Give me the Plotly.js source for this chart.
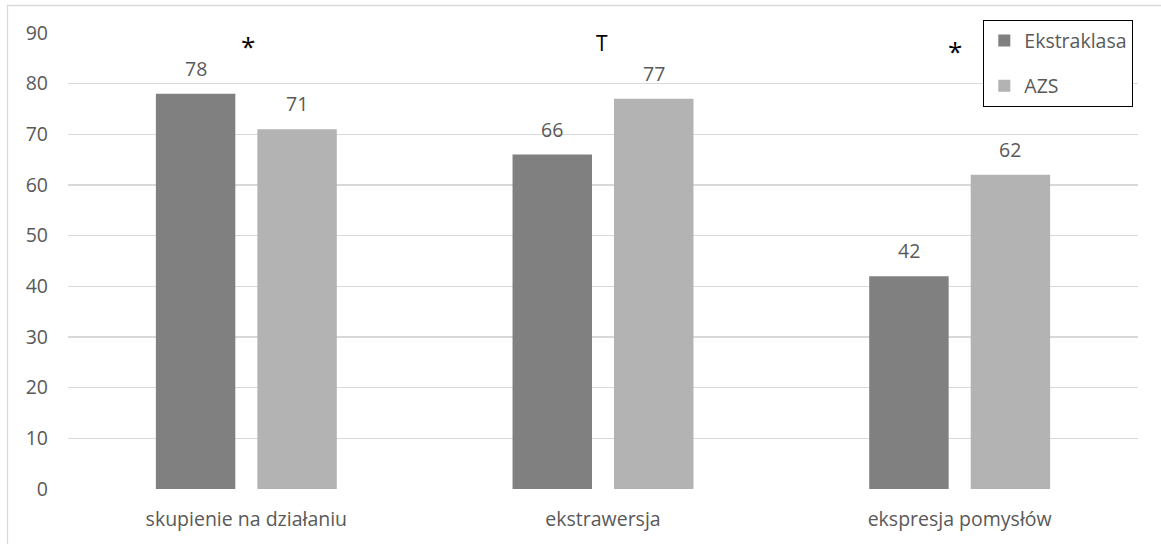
<!DOCTYPE html>
<html>
<head>
<meta charset="utf-8">
<script src="https://cdn.plot.ly/plotly-3.0.1.min.js"></script>
<style>
  html, body { margin: 0; padding: 0; background: #ffffff; }
  #chart { width: 1161px; height: 544px; }
</style>
</head>
<body>
<div id="chart"></div>
<script>
// Categories and series values
const categories = ['skupienie na działaniu', 'ekstrawersja', 'ekspresja pomysłów'];
const seriesNames = ['Ekstraklasa', 'AZS'];
const ekstraklasa = [78, 66, 42];
const azs = [71, 77, 62];
// Significance markers shown above each category
const markers = ['*', 'T', '*'];
const yTicks = [0, 10, 20, 30, 40, 50, 60, 70, 80, 90];

const W = 1161, H = 544;
const M = { l: 68, r: 23, t: 33, b: 55 };
const plotW = W - M.l - M.r;
const plotH = H - M.t - M.b;
const px2x = px => (px - M.l) / plotW;
const px2y = py => (H - M.b - py) / plotH;

const FONT = '"Open Sans", Lato, sans-serif';
const FS = 19.5;
const TXT = '#595959';
const colors = ['#808080', '#b3b3b3'];

const bargap = 0.431;
const bargroupgap = 0.217;
// horizontal offset of each bar centre from its category centre (pixels)
const slot = (plotW / categories.length) * (1 - bargap) / 2;

const traces = [ekstraklasa, azs].map((vals, i) => ({
  type: 'bar',
  name: seriesNames[i],
  x: categories,
  y: vals,
  marker: { color: colors[i] },
  legendgroup: 'g' + i,
  hoverinfo: 'x+y'
}));

const annotations = [];
[ekstraklasa, azs].forEach((vals, i) => {
  vals.forEach((v, j) => {
    annotations.push({
      x: categories[j], y: v, xref: 'x', yref: 'y',
      text: String(v), showarrow: false,
      xanchor: 'center', yanchor: 'bottom',
      xshift: (i === 0 ? -1 : 1) * slot / 2, yshift: 10,
      font: { family: FONT, size: FS, color: TXT }
    });
  });
});
// marker text: asterisks drawn larger, since the glyph sits high in its box
const markerPos = [
  { dx: 2, py: 44 },
  { dx: -1, py: 43 },
  { dx: -5, py: 49 }
];
markers.forEach((m, j) => {
  const star = m === '*';
  annotations.push({
    x: categories[j], xref: 'x', yref: 'paper', y: px2y(markerPos[j].py),
    text: m, showarrow: false, xanchor: 'center', yanchor: 'middle',
    xshift: markerPos[j].dx, yshift: star ? -2 : 0,
    font: { family: FONT, size: star ? 26 : 21, color: '#000000' }
  });
});

const layout = {
  width: W, height: H,
  margin: M,
  paper_bgcolor: '#ffffff',
  plot_bgcolor: '#ffffff',
  font: { family: FONT, size: FS, color: TXT },
  barmode: 'group',
  bargap: bargap,
  bargroupgap: bargroupgap,
  showlegend: true,
  legend: {
    x: px2x(983), y: px2y(20), xanchor: 'left', yanchor: 'top',
    bgcolor: '#ffffff', bordercolor: '#000000', borderwidth: 1.3,
    font: { family: FONT, size: FS, color: TXT },
    tracegroupgap: 17,
    itemclick: false
  },
  xaxis: {
    type: 'category',
    showgrid: false, zeroline: false, showline: false,
    ticks: '', ticklabelstandoff: 16,
    tickfont: { family: FONT, size: FS, color: TXT }
  },
  yaxis: {
    range: [0, 90],
    tickvals: yTicks,
    showgrid: true, gridcolor: '#d9d9d9', gridwidth: 1.3,
    zeroline: false, showline: false,
    ticks: '', ticklabelstandoff: 19,
    tickfont: { family: FONT, size: FS, color: TXT }
  },
  annotations: annotations,
  shapes: [{
    type: 'rect', xref: 'paper', yref: 'paper', layer: 'below',
    x0: px2x(7.5), x1: px2x(W + 10), y0: px2y(H + 10), y1: px2y(5.5),
    line: { color: '#d9d9d9', width: 1.3 }, fillcolor: 'rgba(0,0,0,0)'
  }]
};

Plotly.newPlot('chart', traces, layout, { displayModeBar: false, staticPlot: true });
</script>
</body>
</html>
